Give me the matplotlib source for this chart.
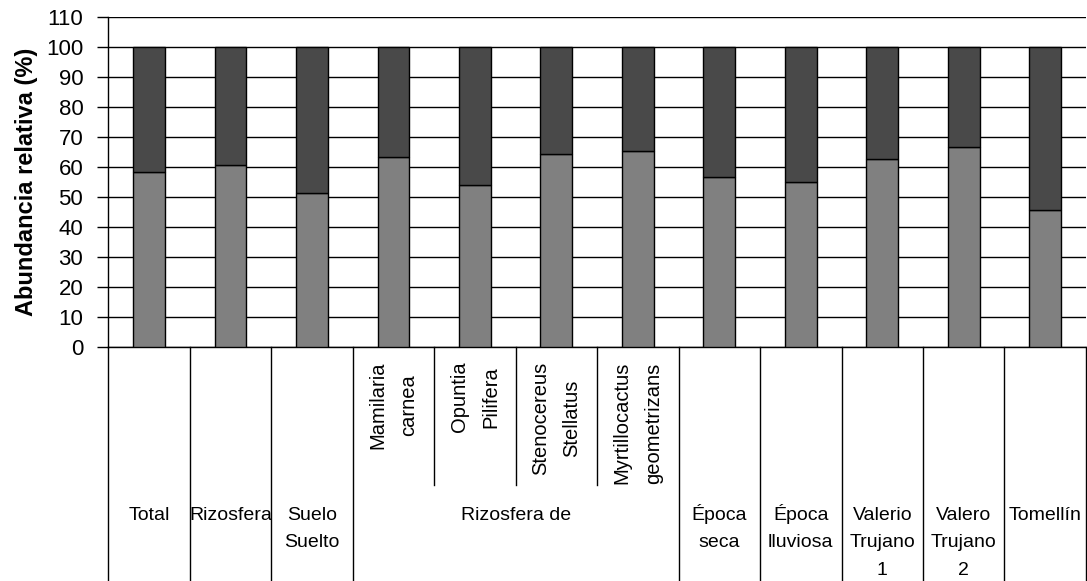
import matplotlib.pyplot as plt
import numpy as np

plt.rcParams['font.family'] = ['Liberation Sans', 'DejaVu Sans']

# data
categories = ["Total", "Rizosfera", "Suelo\nSuelto",
              "Mamilaria\ncarnea", "Opuntia\nPilifera", "Stenocereus\nStellatus",
              "Myrtillocactus\ngeometrizans",
              "Época\nseca", "Época\nlluviosa", "Valerio\nTrujano\n1",
              "Valero\nTrujano\n2", "Tomellín"]
lower = [58.2, 60.5, 51.1, 63.2, 53.9, 64.2, 65.3, 56.6, 54.9, 62.6, 66.7, 45.6]
upper = [100 - v for v in lower]
group_idx = [3, 4, 5, 6]          # the "Rizosfera de" group
group_label = "Rizosfera de"

fig = plt.figure(figsize=(10.87, 5.81), dpi=100)
ax = fig.add_axes([0.0996, 0.4028, 0.8994, 0.5688])

x = np.arange(len(categories))
ax.bar(x, lower, width=0.39, color="#808080", edgecolor="black", linewidth=1, zorder=3)
ax.bar(x, upper, width=0.39, bottom=lower, color="#494949", edgecolor="black", linewidth=1, zorder=3)

ax.set_xlim(-0.5, len(categories) - 0.5)
ax.set_ylim(0, 110)
ax.set_yticks(np.arange(0, 111, 10))
ax.tick_params(axis="y", labelsize=16, length=8, width=1, pad=10, direction="out")
ax.set_xticks([])
ax.yaxis.grid(True, color="black", linewidth=1)
ax.set_axisbelow(True)
for s in ["top", "right"]:
    ax.spines[s].set_visible(False)
ax.spines["left"].set_linewidth(1)
ax.spines["bottom"].set_linewidth(1)
ax.set_ylabel("Abundancia relativa (%)", fontsize=17, fontweight="bold", labelpad=6)

# category table under the axis
tr = ax.get_xaxis_transform()
bottom_y = -0.71
inner_y = -0.4175
for b in np.arange(-0.5, len(categories)):
    inside = (b - 0.5 in group_idx) and (b + 0.5 in group_idx)
    ax.plot([b, b], [0, inner_y if inside else bottom_y], color="black",
            linewidth=1, transform=tr, clip_on=False)

# horizontal labels: one text per line, baselines on fixed rows
row0 = -0.5234
row_step = 0.0826
for i, name in enumerate(categories):
    if i in group_idx:
        ax.text(i, -0.045, name, transform=tr, rotation=90, ha="center", va="top",
                multialignment="center", fontsize=14.5, linespacing=1.8)
    else:
        for k, line in enumerate(name.split("\n")):
            ax.text(i, row0 - k * row_step, line, transform=tr, ha="center",
                    va="baseline", fontsize=14)
ax.text(np.mean(group_idx), row0, group_label, transform=tr, ha="center",
        va="baseline", fontsize=14)

plt.savefig("out.png", dpi=100)
